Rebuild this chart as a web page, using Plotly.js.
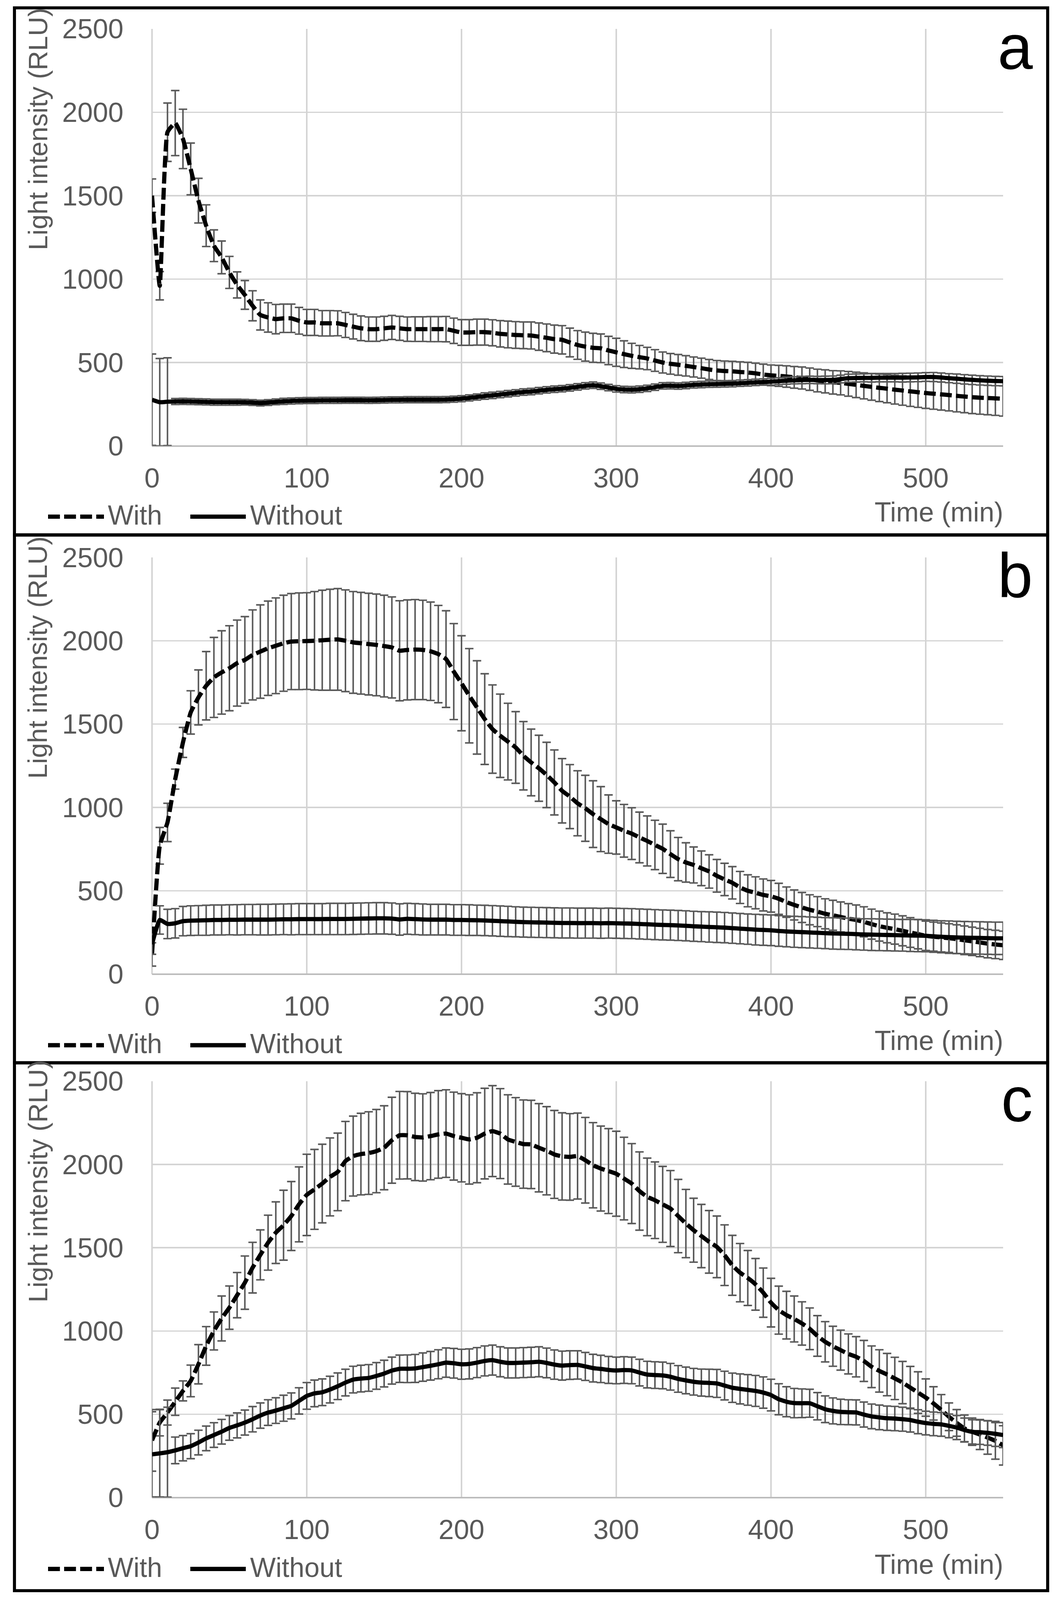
<!DOCTYPE html>
<html>
<head>
<meta charset="utf-8">
<script src="https://cdn.plot.ly/plotly-3.0.1.min.js"></script>
<style>html,body{margin:0;padding:0;background:#fff;overflow:hidden;}#chart{position:absolute;left:0;top:0;}</style>
</head>
<body>
<div id="chart"></div>
<script>
// ---------- DATA ----------
var timeMin = [0,5,10,15,20,25,30,35,40,45,50,55,60,65,70,75,80,85,90,95,100,105,110,115,120,125,130,135,140,145,150,155,160,165,170,175,180,185,190,195,200,205,210,215,220,225,230,235,240,245,250,255,260,265,270,275,280,285,290,295,300,305,310,315,320,325,330,335,340,345,350,355,360,365,370,375,380,385,390,395,400,405,410,415,420,425,430,435,440,445,450,455,460,465,470,475,480,485,490,495,500,505,510,515,520,525,530,535,540,545,550];

var panelLabels = ["a", "b", "c"];
var seriesNames = ["With", "Without"];
var xTitle = "Time (min)";
var yTitle = "Light intensity (RLU)";

// Panel a
var aWith = [1500,960,1880,1935,1840,1660,1470,1320,1200,1130,
  1040,965,905,840,785,770,760,765,765,750,
  740,740,735,735,735,725,715,705,700,700,
  705,710,705,700,700,700,700,700,700,690,
  680,680,682,682,678,672,668,665,663,662,
  655,648,640,636,620,605,595,588,585,572,
  561,550,540,532,524,512,500,492,486,480,
  473,466,458,452,449,447,443,440,435,428,
  423,420,416,411,407,400,392,387,381,378,
  372,366,360,354,348,343,337,332,327,322,
  317,313,309,305,300,296,292,289,287,285,
  283];
var aWithErr = [100,85,175,195,178,155,134,125,95,98,
  96,78,86,90,90,88,88,85,85,80,
  78,78,76,76,75,75,74,74,73,73,
  72,72,72,73,74,74,75,75,76,76,
  77,77,78,78,78,79,80,80,80,81,
  82,83,84,85,86,86,87,87,86,85,
  84,80,75,70,67,65,63,62,62,61,
  60,60,60,60,60,60,61,61,61,62,
  62,63,64,65,66,67,68,69,70,72,
  74,76,78,80,82,84,86,88,90,91,
  92,93,94,95,96,97,98,99,100,102,
  104];
var aWithout = [277,262,265,266,267,266,265,264,262,262,
  262,262,262,260,257,260,264,267,269,271,
  272,272,273,273,273,274,274,274,273,274,
  275,276,276,277,277,277,277,277,278,280,
  283,288,293,299,303,308,313,318,323,326,
  331,336,340,343,348,354,360,364,358,350,
  342,338,337,340,345,352,360,361,359,362,
  366,368,370,371,372,373,376,378,381,383,
  385,388,391,393,395,396,395,395,396,401,
  406,407,408,408,409,409,409,409,410,411,
  413,413,410,406,403,399,396,393,391,389,
  388];
var aWithoutErr = [274,262,263,18,18,18,18,18,18,18,
  18,18,17,17,17,17,17,18,18,18,
  18,18,18,18,18,18,18,18,18,18,
  18,18,18,18,18,18,18,18,18,18,
  18,18,18,19,19,19,19,19,19,19,
  19,19,19,19,19,19,19,19,19,19,
  19,19,19,19,19,19,19,19,19,19,
  19,19,19,19,19,19,19,19,19,19,
  20,20,21,21,22,22,22,23,23,23,
  24,24,24,25,25,25,25,26,26,26,
  26,27,27,27,28,28,28,28,28,28,
  28];

// Panel b
var bWith = [118,770,910,1170,1390,1570,1660,1730,1780,1810,
  1835,1866,1885,1915,1935,1955,1970,1985,1995,1997,
  1998,2000,2003,2006,2008,2000,1990,1985,1980,1975,
  1968,1960,1940,1945,1947,1945,1937,1920,1890,1815,
  1745,1670,1600,1530,1470,1430,1395,1360,1310,1270,
  1235,1195,1150,1100,1065,1025,995,960,930,900,
  880,860,843,820,799,775,752,720,690,670,
  655,635,616,590,568,548,520,500,488,475,
  467,452,432,415,400,386,375,362,353,343,
  333,325,314,300,288,278,270,260,250,240,
  230,225,220,216,210,203,197,190,183,178,
  173];
var bWithErr = [70,110,115,60,90,130,165,205,240,250,
  255,258,260,270,280,283,287,288,288,290,
  290,295,300,303,305,305,305,305,305,305,
  305,303,300,300,300,298,295,292,290,288,
  285,283,280,272,265,250,230,215,205,200,
  198,196,195,193,192,195,198,200,195,175,
  160,158,155,152,150,148,148,140,130,118,
  108,104,100,98,97,97,96,96,96,96,
  95,93,91,90,90,90,90,90,90,90,
  90,90,90,90,90,90,90,90,89,88,
  88,87,87,86,86,86,85,85,85,85,
  85];
var bWithout = [179,325,301,305,318,321,322,323,325,325,
  326,326,327,327,327,327,328,329,329,330,
  330,330,330,331,331,331,332,333,334,335,
  335,333,328,332,330,328,327,327,327,325,
  325,324,323,322,320,318,316,314,312,311,
  310,309,308,307,307,306,306,306,305,306,
  305,304,303,301,299,297,295,294,292,290,
  287,285,283,281,279,276,273,270,267,265,
  263,259,256,254,252,250,248,246,244,243,
  242,240,238,237,236,235,234,233,232,231,
  230,227,224,222,220,219,218,217,216,215,
  215];
var bWithoutErr = [60,85,88,88,88,89,89,90,90,90,
  90,91,91,91,92,92,92,92,93,93,
  93,93,93,94,94,94,94,94,94,94,
  94,94,94,93,93,93,92,92,92,92,
  92,92,91,91,91,91,91,90,90,90,
  90,90,90,90,90,90,90,90,90,90,
  90,90,90,90,90,90,90,90,90,90,
  90,90,91,91,91,91,91,91,92,92,
  92,92,92,93,93,93,93,93,94,94,
  94,94,94,95,95,95,95,95,96,96,
  96,96,96,97,97,97,97,97,97,97,
  97];

// Panel c
var cWith = [343,450,510,575,640,700,800,910,1000,1075,
  1140,1215,1290,1380,1457,1530,1590,1635,1690,1760,
  1817,1850,1885,1925,1955,2020,2050,2062,2068,2080,
  2100,2145,2175,2175,2165,2162,2170,2180,2185,2170,
  2160,2150,2160,2185,2200,2185,2150,2135,2122,2120,
  2100,2082,2060,2048,2045,2050,2025,1995,1975,1960,
  1944,1915,1885,1840,1805,1785,1760,1735,1690,1645,
  1605,1570,1535,1505,1455,1394,1350,1318,1280,1230,
  1170,1125,1095,1072,1045,1013,970,935,908,885,
  862,845,820,785,760,738,715,690,660,630,
  600,565,526,485,448,415,395,378,360,340,
  313];
var cWithErr = [185,80,75,82,60,95,118,116,114,135,
  130,136,160,152,150,165,185,210,207,225,
  244,240,236,234,233,238,240,245,248,250,
  252,258,263,262,262,262,262,263,263,264,
  265,268,270,272,273,270,268,266,265,265,
  265,265,264,262,260,258,257,256,255,255,
  255,248,240,235,233,230,228,228,220,205,
  192,190,188,185,182,180,175,165,155,148,
  146,144,143,138,130,125,122,121,120,120,
  120,121,123,125,127,127,127,127,127,125,
  112,100,92,83,80,80,82,90,100,110,
  118];
var cWithout = [259,265,272,283,296,308,330,355,375,395,
  418,433,450,470,492,510,522,536,550,580,
  610,625,632,648,668,690,708,714,718,730,
  744,762,773,773,775,783,791,800,810,806,
  800,802,810,820,825,815,808,808,810,812,
  815,808,798,792,795,796,787,777,772,766,
  763,765,763,750,738,735,733,725,712,703,
  695,690,688,685,672,659,652,646,640,630,
  615,590,575,567,566,566,548,530,520,514,
  512,511,498,487,481,476,474,470,465,455,
  447,442,439,430,420,405,394,392,388,382,
  375];
var cWithoutErr = [256,262,270,80,76,75,74,74,74,74,
  74,75,75,76,76,77,77,78,78,79,
  80,80,80,80,80,80,80,80,80,80,
  80,81,82,83,84,85,86,87,88,89,
  90,90,90,90,90,90,90,90,90,90,
  90,89,88,87,86,85,84,83,82,81,
  80,80,80,80,80,80,80,80,80,80,
  80,81,82,84,86,88,90,92,93,94,
  95,93,90,88,86,84,82,80,78,76,
  75,75,75,74,74,73,73,72,72,72,
  71,71,71,71,72,72,73,73,74,75,
  75];

var withSeries = [aWith, bWith, cWith];
var withErrs = [aWithErr, bWithErr, cWithErr];
var withoutSeries = [aWithout, bWithout, cWithout];
var withoutErrs = [aWithoutErr, bWithoutErr, cWithoutErr];
var xTicks = [0, 100, 200, 300, 400, 500];
var yTicks = [0, 500, 1000, 1500, 2000, 2500];

// ---------- LAYOUT (reference measured on a 2710 x 4277 canvas) ----------
var REF_W = 2710, REF_H = 4277;
var W = window.innerWidth || REF_W;
var H = window.innerHeight || REF_H;
if (W < 100) W = REF_W;
if (H < 100) H = REF_H;
var sx = W / REF_W, sy = H / REF_H, k = (sx + sy) / 2;
document.getElementById("chart").style.width = W + "px";
document.getElementById("chart").style.height = H + "px";

function px(p) { return p / REF_W; }
function py(p) { return 1 - p / REF_H; }
function f(s) { return Math.round(s * k * 10) / 10; }

var FONT = "Liberation Sans, Arial, Helvetica, sans-serif";
var GREY = "#595959";
var GRID = "#d4d4d4";
var plotLeft = 389, plotRight = 2567;
var plotTops = [77, 1490, 2890];
var plotBottoms = [1192, 2604, 4003];
var offs = [0, 1413, 2813];
var boxEdges = [21, 1430, 2841, 4252];
var dashPattern = f(31) + "px," + f(11) + "px";
var LW = f(11);

var traces = [];
var layout = {
  width: W, height: H,
  margin: {l: 0, r: 0, t: 0, b: 0, pad: 0},
  paper_bgcolor: "#ffffff",
  plot_bgcolor: "#ffffff",
  showlegend: false,
  font: {family: FONT, color: GREY, size: f(72)},
  shapes: [],
  annotations: []
};

for (var i = 0; i < 3; i++) {
  var sfx = i === 0 ? "" : String(i + 1);
  var xa = "x" + sfx, ya = "y" + sfx;
  traces.push({
    type: "scatter", mode: "lines", name: seriesNames[0],
    x: timeMin, y: withSeries[i], xaxis: xa, yaxis: ya,
    line: {color: "#000000", width: LW, dash: dashPattern, shape: "spline", smoothing: 0.4},
    error_y: {type: "data", array: withErrs[i], visible: true, color: GREY, thickness: f(4), width: f(11)}
  });
  traces.push({
    type: "scatter", mode: "lines", name: seriesNames[1],
    x: timeMin, y: withoutSeries[i], xaxis: xa, yaxis: ya,
    line: {color: "#000000", width: LW, shape: "spline", smoothing: 0.4},
    error_y: {type: "data", array: withoutErrs[i], visible: true, color: GREY, thickness: f(4), width: f(11)}
  });

  layout["xaxis" + sfx] = {
    domain: [px(plotLeft), px(plotRight)],
    anchor: ya,
    range: [0, 550],
    tickvals: xTicks,
    ticktext: xTicks.map(String),
    showgrid: true, gridcolor: GRID, gridwidth: f(3.5),
    zeroline: true, zerolinecolor: GRID, zerolinewidth: f(3.5),
    showline: false,
    ticks: "outside", ticklen: Math.round(22 * sy), tickcolor: "rgba(0,0,0,0)", tickwidth: 1,
    tickfont: {family: FONT, size: f(72), color: GREY},
    fixedrange: true
  };
  layout["yaxis" + sfx] = {
    domain: [py(plotBottoms[i]), py(plotTops[i])],
    anchor: xa,
    range: [0, 2500],
    tickvals: yTicks,
    ticktext: yTicks.map(String),
    showgrid: true, gridcolor: GRID, gridwidth: f(3.5),
    zeroline: true, zerolinecolor: "#bcbcbc", zerolinewidth: f(4),
    showline: false,
    ticks: "outside", ticklen: Math.round(58 * sx), tickcolor: "rgba(0,0,0,0)", tickwidth: 1,
    tickfont: {family: FONT, size: f(72), color: GREY},
    fixedrange: true
  };

  // panel frame
  layout.shapes.push({
    type: "rect", xref: "paper", yref: "paper",
    x0: px(37), x1: px(2681), y0: py(boxEdges[i]), y1: py(boxEdges[i + 1]),
    line: {color: "#000000", width: f(8)}, fillcolor: "rgba(0,0,0,0)", layer: "above"
  });
  // legend samples
  var ly = 1381 + offs[i];
  layout.shapes.push({
    type: "line", xref: "paper", yref: "paper",
    x0: px(123), x1: px(266), y0: py(ly), y1: py(ly),
    line: {color: "#000000", width: LW, dash: dashPattern}
  });
  layout.shapes.push({
    type: "line", xref: "paper", yref: "paper",
    x0: px(487), x1: px(629), y0: py(ly), y1: py(ly),
    line: {color: "#000000", width: LW}
  });

  layout.annotations.push({
    xref: "paper", yref: "paper", x: px(274), y: py(1377 + offs[i]),
    xanchor: "left", yanchor: "middle", showarrow: false,
    text: seriesNames[0], font: {family: FONT, size: f(71), color: GREY}
  });
  layout.annotations.push({
    xref: "paper", yref: "paper", x: px(638), y: py(1377 + offs[i]),
    xanchor: "left", yanchor: "middle", showarrow: false,
    text: seriesNames[1], font: {family: FONT, size: f(71), color: GREY}
  });
  layout.annotations.push({
    xref: "paper", yref: "paper", x: px(2569), y: py(1369 + offs[i]),
    xanchor: "right", yanchor: "middle", showarrow: false,
    text: xTitle, font: {family: FONT, size: f(71), color: GREY}
  });
  layout.annotations.push({
    xref: "paper", yref: "paper", x: px(97), y: py(345 + offs[i]),
    xanchor: "center", yanchor: "middle", showarrow: false, textangle: -90,
    text: yTitle, font: {family: FONT, size: f(70), color: GREY}
  });
  layout.annotations.push({
    xref: "paper", yref: "paper", x: px(2645), y: py(125 + offs[i]),
    xanchor: "right", yanchor: "middle", showarrow: false,
    text: panelLabels[i], font: {family: FONT, size: f(165), color: "#000000"}
  });
}

Plotly.newPlot("chart", traces, layout, {staticPlot: true, displayModeBar: false});
</script>
</body>
</html>
